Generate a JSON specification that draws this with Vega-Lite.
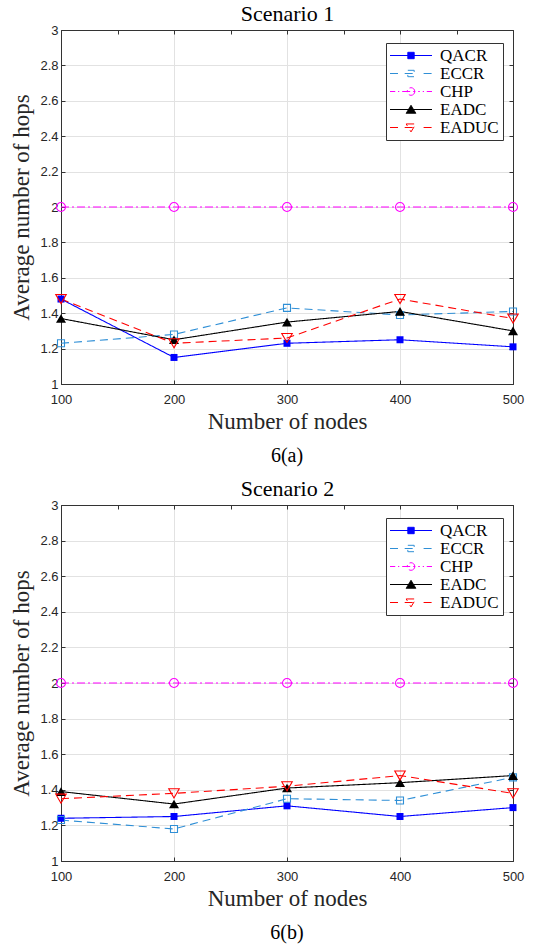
{
  "$schema": "https://vega.github.io/schema/vega-lite/v6.json",
  "background": "white",
  "padding": {"left": 10, "top": 2, "right": 4, "bottom": 4},
  "datasets": {
    "hops": [
      {"panel": "a", "nodes": 100, "method": "QACR", "hops": 1.48},
      {"panel": "a", "nodes": 200, "method": "QACR", "hops": 1.15},
      {"panel": "a", "nodes": 300, "method": "QACR", "hops": 1.23},
      {"panel": "a", "nodes": 400, "method": "QACR", "hops": 1.25},
      {"panel": "a", "nodes": 500, "method": "QACR", "hops": 1.21},
      {"panel": "a", "nodes": 100, "method": "ECCR", "hops": 1.23},
      {"panel": "a", "nodes": 200, "method": "ECCR", "hops": 1.28},
      {"panel": "a", "nodes": 300, "method": "ECCR", "hops": 1.43},
      {"panel": "a", "nodes": 400, "method": "ECCR", "hops": 1.39},
      {"panel": "a", "nodes": 500, "method": "ECCR", "hops": 1.41},
      {"panel": "a", "nodes": 100, "method": "CHP", "hops": 2},
      {"panel": "a", "nodes": 200, "method": "CHP", "hops": 2},
      {"panel": "a", "nodes": 300, "method": "CHP", "hops": 2},
      {"panel": "a", "nodes": 400, "method": "CHP", "hops": 2},
      {"panel": "a", "nodes": 500, "method": "CHP", "hops": 2},
      {"panel": "a", "nodes": 100, "method": "EADC", "hops": 1.37},
      {"panel": "a", "nodes": 200, "method": "EADC", "hops": 1.25},
      {"panel": "a", "nodes": 300, "method": "EADC", "hops": 1.35},
      {"panel": "a", "nodes": 400, "method": "EADC", "hops": 1.41},
      {"panel": "a", "nodes": 500, "method": "EADC", "hops": 1.30},
      {"panel": "a", "nodes": 100, "method": "EADUC", "hops": 1.48},
      {"panel": "a", "nodes": 200, "method": "EADUC", "hops": 1.23},
      {"panel": "a", "nodes": 300, "method": "EADUC", "hops": 1.26},
      {"panel": "a", "nodes": 400, "method": "EADUC", "hops": 1.48},
      {"panel": "a", "nodes": 500, "method": "EADUC", "hops": 1.37},
      {"panel": "b", "nodes": 100, "method": "QACR", "hops": 1.24},
      {"panel": "b", "nodes": 200, "method": "QACR", "hops": 1.25},
      {"panel": "b", "nodes": 300, "method": "QACR", "hops": 1.31},
      {"panel": "b", "nodes": 400, "method": "QACR", "hops": 1.25},
      {"panel": "b", "nodes": 500, "method": "QACR", "hops": 1.30},
      {"panel": "b", "nodes": 100, "method": "ECCR", "hops": 1.23},
      {"panel": "b", "nodes": 200, "method": "ECCR", "hops": 1.18},
      {"panel": "b", "nodes": 300, "method": "ECCR", "hops": 1.35},
      {"panel": "b", "nodes": 400, "method": "ECCR", "hops": 1.34},
      {"panel": "b", "nodes": 500, "method": "ECCR", "hops": 1.47},
      {"panel": "b", "nodes": 100, "method": "CHP", "hops": 2},
      {"panel": "b", "nodes": 200, "method": "CHP", "hops": 2},
      {"panel": "b", "nodes": 300, "method": "CHP", "hops": 2},
      {"panel": "b", "nodes": 400, "method": "CHP", "hops": 2},
      {"panel": "b", "nodes": 500, "method": "CHP", "hops": 2},
      {"panel": "b", "nodes": 100, "method": "EADC", "hops": 1.39},
      {"panel": "b", "nodes": 200, "method": "EADC", "hops": 1.32},
      {"panel": "b", "nodes": 300, "method": "EADC", "hops": 1.41},
      {"panel": "b", "nodes": 400, "method": "EADC", "hops": 1.44},
      {"panel": "b", "nodes": 500, "method": "EADC", "hops": 1.48},
      {"panel": "b", "nodes": 100, "method": "EADUC", "hops": 1.35},
      {"panel": "b", "nodes": 200, "method": "EADUC", "hops": 1.38},
      {"panel": "b", "nodes": 300, "method": "EADUC", "hops": 1.42},
      {"panel": "b", "nodes": 400, "method": "EADUC", "hops": 1.48},
      {"panel": "b", "nodes": 500, "method": "EADUC", "hops": 1.38}
    ]
  },
  "data": {"name": "hops"},
  "spacing": 10,
  "resolve": {"scale": {"stroke": "independent", "strokeDash": "independent"}},
  "vconcat": [
    {
      "width": 452,
      "height": 354,
      "title": {"text": "6(a)", "orient": "bottom", "offset": 13},
      "transform": [{"filter": "datum.panel === 'a'"}],
      "resolve": {"axis": {"x": "independent", "y": "independent"}},
      "layer": [
        {
          "mark": {"type": "line", "strokeWidth": 1.1},
          "encoding": {
            "x": {"field": "nodes", "type": "quantitative", "scale": {"domain": [100, 500], "nice": false},
                  "axis": {"title": "Number of nodes", "values": [100, 200, 300, 400, 500], "labelPadding": 13, "titlePadding": 4}},
            "y": {"field": "hops", "type": "quantitative", "scale": {"domain": [1, 3], "nice": false},
                  "axis": {"title": "Average number of hops", "values": [1, 1.2, 1.4, 1.6, 1.8, 2, 2.2, 2.4, 2.6, 2.8, 3], "format": "~g", "labelPadding": 7, "titlePadding": 6}},
            "stroke": {"field": "method", "type": "nominal",
                       "scale": {"domain": ["QACR", "ECCR", "CHP", "EADC", "EADUC"], "range": ["#0000ff", "#2f8fd6", "#ff00ff", "#000000", "#ff0000"]},
                       "legend": {
                         "title": null, "orient": "none", "legendX": 325, "legendY": 13,
                         "labelFont": "Liberation Serif", "labelFontSize": 17, "labelColor": "#000000",
                         "symbolSize": 100, "labelOffset": 33, "rowPadding": 0, "padding": 4,
                         "strokeColor": "#333333", "fillColor": "white",
                         "encode": {"symbols": {"update": {
                           "x": {"value": 21},
                           "shape": {"signal": "datum.value === 'QACR' ? 'M-4.2,0H4.2M-0.64,-0.64H0.64V0.64H-0.64Z' : datum.value === 'ECCR' ? 'M-4.2,0H-2.52M-1.26,0H1.26M2.52,0H4.2M-0.64,-0.64H0.64V0.64H-0.64Z' : datum.value === 'CHP' ? 'M-4.2,0H-3.15M-2.6,0H-2.35M-1.76,0H1.76M2.35,0H2.6M3.15,0H4.2M0.76,0A0.76,0.76,0,1,1,-0.76,0A0.76,0.76,0,1,1,0.76,0Z' : datum.value === 'EADC' ? 'M-4.2,0H4.2M0,-0.84L0.97,0.76H-0.97Z' : 'M-4.2,0H-2.52M-1.26,0H1.26M2.52,0H4.2M-0.97,-0.71H0.97L0,0.88Z'"},
                           "fill": {"signal": "datum.value === 'QACR' ? '#0000ff' : datum.value === 'EADC' ? '#000000' : 'transparent'"},
                           "strokeDash": {"value": []},
                           "size": {"value": 100},
                           "strokeWidth": {"value": 1}
                         }}}
                       }},
            "strokeDash": {"field": "method", "type": "nominal",
                           "scale": {"domain": ["QACR", "ECCR", "CHP", "EADC", "EADUC"], "range": [[1, 0], [8, 5], [8, 3, 2, 3], [1, 0], [8, 5]]},
                           "legend": null}
          }
        },
        {
          "transform": [{"filter": "datum.method === 'QACR'"}],
          "mark": {"type": "point", "shape": "square", "size": 49, "filled": true, "color": "#0000ff", "opacity": 1},
          "encoding": {
            "x": {"field": "nodes", "type": "quantitative",
                  "axis": {"orient": "top", "title": "Scenario 1", "labels": false, "grid": false, "titlePadding": 4, "titleColor": "#000000", "titleFontSize": 22}},
            "y": {"field": "hops", "type": "quantitative",
                  "axis": {"orient": "right", "title": null, "labels": false, "grid": false, "values": [1, 1.2, 1.4, 1.6, 1.8, 2, 2.2, 2.4, 2.6, 2.8, 3]}}
          }
        },
        {
          "transform": [{"filter": "datum.method === 'ECCR'"}],
          "mark": {"type": "point", "shape": "square", "size": 49, "filled": false, "color": "#2f8fd6", "strokeWidth": 1.1, "opacity": 1},
          "encoding": {
            "x": {"field": "nodes", "type": "quantitative", "axis": null},
            "y": {"field": "hops", "type": "quantitative", "axis": null}
          }
        },
        {
          "transform": [{"filter": "datum.method === 'CHP'"}],
          "mark": {"type": "point", "shape": "circle", "size": 81, "filled": false, "color": "#ff00ff", "strokeWidth": 1.1, "opacity": 1},
          "encoding": {
            "x": {"field": "nodes", "type": "quantitative", "axis": null},
            "y": {"field": "hops", "type": "quantitative", "axis": null}
          }
        },
        {
          "transform": [{"filter": "datum.method === 'EADC'"}],
          "mark": {"type": "point", "shape": "triangle-up", "size": 100, "filled": true, "color": "#000000", "opacity": 1},
          "encoding": {
            "x": {"field": "nodes", "type": "quantitative", "axis": null},
            "y": {"field": "hops", "type": "quantitative", "axis": null}
          }
        },
        {
          "transform": [{"filter": "datum.method === 'EADUC'"}],
          "mark": {"type": "point", "shape": "triangle-down", "size": 110, "filled": false, "color": "#ff0000", "strokeWidth": 1.1, "opacity": 1},
          "encoding": {
            "x": {"field": "nodes", "type": "quantitative", "axis": null},
            "y": {"field": "hops", "type": "quantitative", "axis": null}
          }
        }
      ]
    },
    {
      "width": 452,
      "height": 356,
      "title": {"text": "6(b)", "orient": "bottom", "offset": 13},
      "transform": [{"filter": "datum.panel === 'b'"}],
      "resolve": {"axis": {"x": "independent", "y": "independent"}},
      "layer": [
        {
          "mark": {"type": "line", "strokeWidth": 1.1},
          "encoding": {
            "x": {"field": "nodes", "type": "quantitative", "scale": {"domain": [100, 500], "nice": false},
                  "axis": {"title": "Number of nodes", "values": [100, 200, 300, 400, 500], "labelPadding": 13, "titlePadding": 4}},
            "y": {"field": "hops", "type": "quantitative", "scale": {"domain": [1, 3], "nice": false},
                  "axis": {"title": "Average number of hops", "values": [1, 1.2, 1.4, 1.6, 1.8, 2, 2.2, 2.4, 2.6, 2.8, 3], "format": "~g", "labelPadding": 7, "titlePadding": 6}},
            "stroke": {"field": "method", "type": "nominal",
                       "scale": {"domain": ["QACR", "ECCR", "CHP", "EADC", "EADUC"], "range": ["#0000ff", "#2f8fd6", "#ff00ff", "#000000", "#ff0000"]},
                       "legend": {
                         "title": null, "orient": "none", "legendX": 325, "legendY": 13,
                         "labelFont": "Liberation Serif", "labelFontSize": 17, "labelColor": "#000000",
                         "symbolSize": 100, "labelOffset": 33, "rowPadding": 0, "padding": 4,
                         "strokeColor": "#333333", "fillColor": "white",
                         "encode": {"symbols": {"update": {
                           "x": {"value": 21},
                           "shape": {"signal": "datum.value === 'QACR' ? 'M-4.2,0H4.2M-0.64,-0.64H0.64V0.64H-0.64Z' : datum.value === 'ECCR' ? 'M-4.2,0H-2.52M-1.26,0H1.26M2.52,0H4.2M-0.64,-0.64H0.64V0.64H-0.64Z' : datum.value === 'CHP' ? 'M-4.2,0H-3.15M-2.6,0H-2.35M-1.76,0H1.76M2.35,0H2.6M3.15,0H4.2M0.76,0A0.76,0.76,0,1,1,-0.76,0A0.76,0.76,0,1,1,0.76,0Z' : datum.value === 'EADC' ? 'M-4.2,0H4.2M0,-0.84L0.97,0.76H-0.97Z' : 'M-4.2,0H-2.52M-1.26,0H1.26M2.52,0H4.2M-0.97,-0.71H0.97L0,0.88Z'"},
                           "fill": {"signal": "datum.value === 'QACR' ? '#0000ff' : datum.value === 'EADC' ? '#000000' : 'transparent'"},
                           "strokeDash": {"value": []},
                           "size": {"value": 100},
                           "strokeWidth": {"value": 1}
                         }}}
                       }},
            "strokeDash": {"field": "method", "type": "nominal",
                           "scale": {"domain": ["QACR", "ECCR", "CHP", "EADC", "EADUC"], "range": [[1, 0], [8, 5], [8, 3, 2, 3], [1, 0], [8, 5]]},
                           "legend": null}
          }
        },
        {
          "transform": [{"filter": "datum.method === 'QACR'"}],
          "mark": {"type": "point", "shape": "square", "size": 49, "filled": true, "color": "#0000ff", "opacity": 1},
          "encoding": {
            "x": {"field": "nodes", "type": "quantitative",
                  "axis": {"orient": "top", "title": "Scenario 2", "labels": false, "grid": false, "titlePadding": 4, "titleColor": "#000000", "titleFontSize": 22}},
            "y": {"field": "hops", "type": "quantitative",
                  "axis": {"orient": "right", "title": null, "labels": false, "grid": false, "values": [1, 1.2, 1.4, 1.6, 1.8, 2, 2.2, 2.4, 2.6, 2.8, 3]}}
          }
        },
        {
          "transform": [{"filter": "datum.method === 'ECCR'"}],
          "mark": {"type": "point", "shape": "square", "size": 49, "filled": false, "color": "#2f8fd6", "strokeWidth": 1.1, "opacity": 1},
          "encoding": {
            "x": {"field": "nodes", "type": "quantitative", "axis": null},
            "y": {"field": "hops", "type": "quantitative", "axis": null}
          }
        },
        {
          "transform": [{"filter": "datum.method === 'CHP'"}],
          "mark": {"type": "point", "shape": "circle", "size": 81, "filled": false, "color": "#ff00ff", "strokeWidth": 1.1, "opacity": 1},
          "encoding": {
            "x": {"field": "nodes", "type": "quantitative", "axis": null},
            "y": {"field": "hops", "type": "quantitative", "axis": null}
          }
        },
        {
          "transform": [{"filter": "datum.method === 'EADC'"}],
          "mark": {"type": "point", "shape": "triangle-up", "size": 100, "filled": true, "color": "#000000", "opacity": 1},
          "encoding": {
            "x": {"field": "nodes", "type": "quantitative", "axis": null},
            "y": {"field": "hops", "type": "quantitative", "axis": null}
          }
        },
        {
          "transform": [{"filter": "datum.method === 'EADUC'"}],
          "mark": {"type": "point", "shape": "triangle-down", "size": 110, "filled": false, "color": "#ff0000", "strokeWidth": 1.1, "opacity": 1},
          "encoding": {
            "x": {"field": "nodes", "type": "quantitative", "axis": null},
            "y": {"field": "hops", "type": "quantitative", "axis": null}
          }
        }
      ]
    }
  ],
  "config": {
    "view": {"stroke": "#333333", "strokeWidth": 1},
    "axis": {
      "labelFont": "Liberation Sans", "labelFontSize": 13, "labelColor": "#262626", "labelFlush": false,
      "titleFont": "Liberation Serif", "titleFontSize": 23, "titleFontWeight": "normal", "titleColor": "#262626",
      "gridColor": "#e2e2e2", "gridWidth": 1,
      "domainColor": "#333333", "tickColor": "#333333", "tickSize": -4
    },
    "legend": {"labelFont": "Liberation Serif", "labelFontSize": 17},
    "title": {"font": "Liberation Serif", "fontSize": 20, "fontWeight": "normal", "color": "#000000", "anchor": "middle"}
  }
}
